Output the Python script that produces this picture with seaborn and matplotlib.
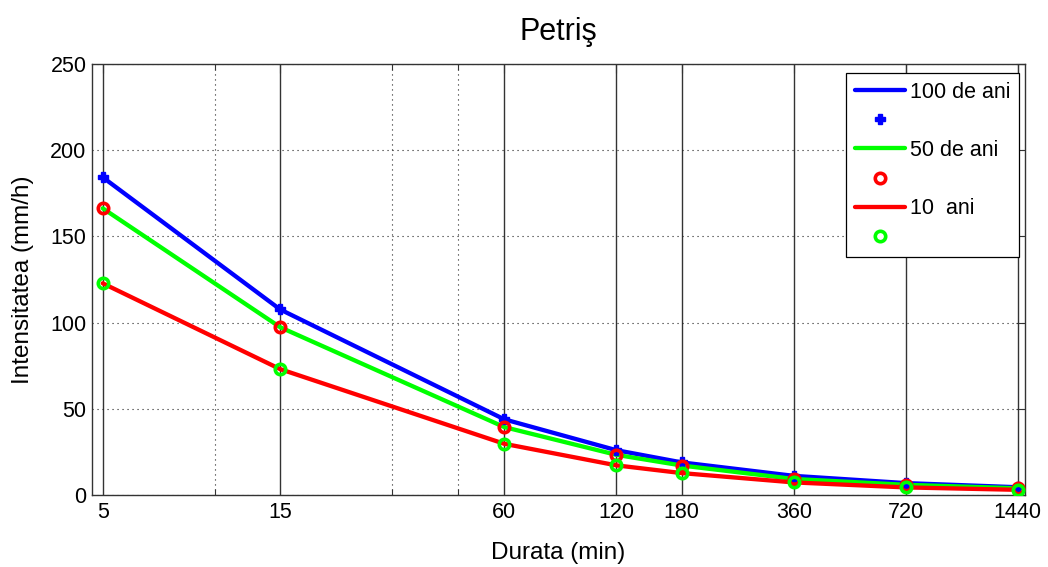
import matplotlib
matplotlib.use("Agg")
import matplotlib.pyplot as plt
import seaborn as sns
from matplotlib.ticker import FixedLocator, FixedFormatter, NullFormatter

# ---- data ----
durata = [5, 15, 60, 120, 180, 360, 720, 1440]
tick_labels = ["5", "15", "60", "120", "180", "360", "720", "1440"]
minor_ticks = [10, 30, 45]
i100 = [184.3, 107.6, 43.9, 26.0, 18.9, 11.1, 6.9, 4.5]
i50 = [166.3, 97.3, 39.4, 23.3, 17.1, 9.3, 5.9, 3.9]
i10 = [122.8, 73.0, 29.7, 17.2, 12.7, 7.3, 4.4, 3.0]
y_ticks = [0, 50, 100, 150, 200, 250]
legend_labels = ["100 de ani", "", "50 de ani", "", "10  ani", ""]

sns.set_style("white")
plt.rcParams["font.family"] = ["Liberation Sans", "DejaVu Sans"]
plt.rcParams["text.color"] = "black"
plt.rcParams["axes.labelcolor"] = "black"

W, H = 1048, 567
fig = plt.figure(figsize=(W / 100, H / 100), dpi=100)
ax = fig.add_axes([92 / W, 1 - 495 / H, 933 / W, 431 / H])

BLUE, GREEN, RED = (0, 0, 1), (0, 1, 0), (1, 0, 0)
LW = 3.1

sns.lineplot(x=durata, y=i100, color=BLUE, lw=LW, ax=ax, zorder=3)
sns.lineplot(x=durata, y=i100, color=BLUE, linestyle="", marker="P",
             markersize=6.5, markeredgecolor=BLUE, markerfacecolor=BLUE,
             markeredgewidth=1.0, ax=ax, zorder=4)
sns.lineplot(x=durata, y=i50, color=GREEN, lw=LW, ax=ax, zorder=3)
sns.lineplot(x=durata, y=i50, color=RED, linestyle="", marker="o",
             markersize=7.5, markeredgecolor=RED, markerfacecolor="none",
             markeredgewidth=2.6, ax=ax, zorder=4)
sns.lineplot(x=durata, y=i10, color=RED, lw=LW, ax=ax, zorder=3)
sns.lineplot(x=durata, y=i10, color=GREEN, linestyle="", marker="o",
             markersize=7.5, markeredgecolor=GREEN, markerfacecolor="none",
             markeredgewidth=2.6, ax=ax, zorder=4)

ax.set_xscale("log")
ax.set_xlim(4.68, 1505)
ax.set_ylim(0, 250)
ax.xaxis.set_major_locator(FixedLocator(durata))
ax.xaxis.set_major_formatter(FixedFormatter(tick_labels))
ax.xaxis.set_minor_locator(FixedLocator(minor_ticks))
ax.xaxis.set_minor_formatter(NullFormatter())
ax.set_yticks(y_ticks)

dot = (0, (1, 3.5))
ax.grid(True, which="major", axis="x", linestyle="-", color="#333333", lw=1.0, zorder=1)
ax.grid(True, which="minor", axis="x", linestyle=dot, color="#222222", lw=0.8, zorder=1)
ax.grid(True, which="major", axis="y", linestyle=dot, color="#222222", lw=0.8, zorder=1)
ax.set_axisbelow(True)

for s in ax.spines.values():
    s.set_visible(True)
    s.set_color("#333333")
    s.set_linewidth(1.0)

ax.tick_params(which="major", direction="in", length=6.5, width=0.8,
               top=True, right=True, labelsize=15.5, colors="#333333",
               labelcolor="black")
ax.tick_params(axis="x", which="major", pad=5)
ax.tick_params(axis="y", which="major", pad=4)
ax.tick_params(axis="x", which="minor", direction="in", length=4, width=0.8,
               top=True, bottom=True, colors="#333333")

ax.set_xlabel("Durata (min)", fontsize=17.5, labelpad=14)
ax.set_ylabel("Intensitatea (mm/h)", fontsize=17.5, labelpad=12)
ax.set_title("Petriş", fontsize=22, pad=17)

handles = ax.lines[:6]
leg = ax.legend(handles, legend_labels, loc="upper right",
                bbox_to_anchor=(0.9936, 0.979), borderaxespad=0,
                fontsize=15.5, handlelength=2.3, handletextpad=0.25,
                labelspacing=0.38, borderpad=0.4, numpoints=1,
                fancybox=False, framealpha=1, edgecolor="black")
leg.get_frame().set_linewidth(0.9)
leg.set_zorder(10)

fig.savefig("out.png", dpi=100)
